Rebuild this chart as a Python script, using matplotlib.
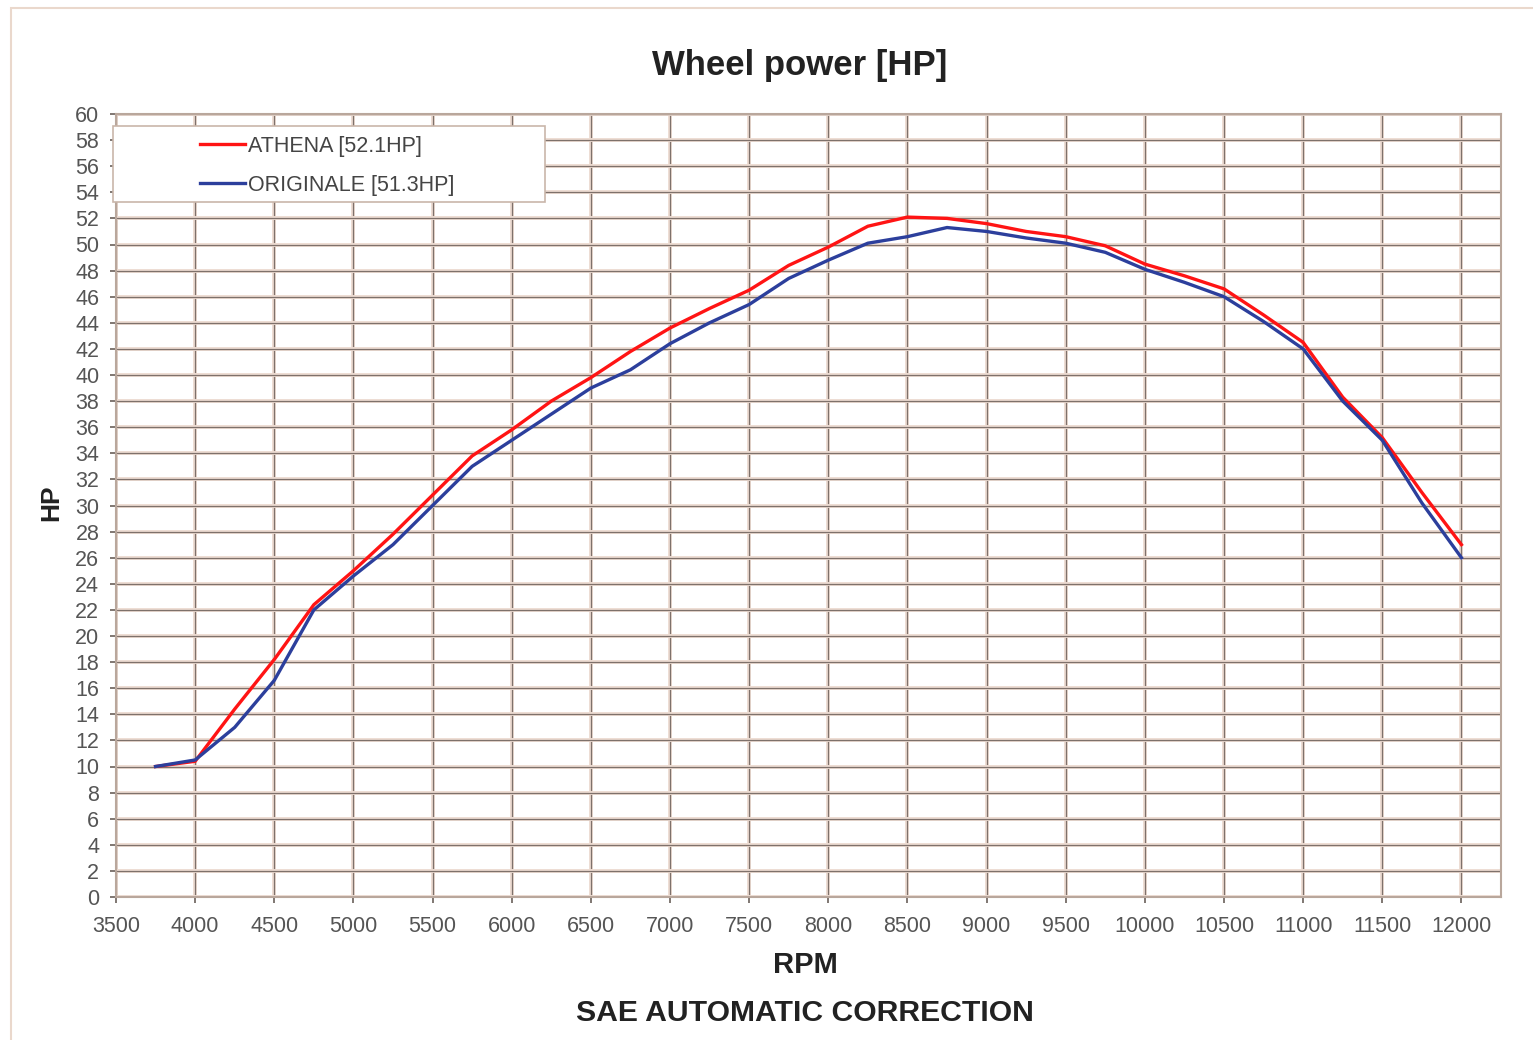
import matplotlib
matplotlib.use("Agg")
import matplotlib.pyplot as plt
import matplotlib.patheffects as pe
from matplotlib.patches import Rectangle

rpm = [3750, 4000, 4250, 4500, 4750, 5000, 5250, 5500, 5750, 6000, 6250, 6500,
       6750, 7000, 7250, 7500, 7750, 8000, 8250, 8500, 8750, 9000, 9250, 9500,
       9750, 10000, 10250, 10500, 10750, 11000, 11250, 11500, 11750, 12000]
athena = [10.0, 10.4, 14.4, 18.2, 22.4, 25.0, 27.8, 30.8, 33.8, 35.8, 38.0, 39.8,
          41.8, 43.6, 45.1, 46.5, 48.4, 49.8, 51.4, 52.1, 52.0, 51.6, 51.0, 50.6,
          49.9, 48.5, 47.6, 46.6, 44.6, 42.5, 38.3, 35.2, 31.0, 27.0]
originale = [10.0, 10.5, 13.0, 16.6, 22.0, 24.6, 27.0, 30.0, 33.0, 35.0, 37.0, 39.0,
             40.4, 42.4, 44.0, 45.4, 47.4, 48.8, 50.1, 50.6, 51.3, 51.0, 50.5, 50.1,
             49.4, 48.1, 47.1, 46.0, 44.1, 42.0, 38.0, 35.0, 30.2, 26.0]
labels = ["ATHENA [52.1HP]", "ORIGINALE [51.3HP]"]
xticks = list(range(3500, 12001, 500))
yticks = list(range(0, 61, 2))

plt.rcParams['font.family'] = ['Liberation Sans', 'DejaVu Sans']

W, H = 1533, 1040
fig = plt.figure(figsize=(W / 100, H / 100), dpi=100)
fig.patches.append(Rectangle((11 / W, -0.01), 1.0, 1 - 8 / H + 0.01,
                             transform=fig.transFigure, fill=False,
                             edgecolor='#ead8cc', linewidth=1.5))
ax = fig.add_axes([116 / W, 1 - 897 / H, (1501 - 116) / W, (897 - 114) / H])

ax.plot(rpm, athena, color='#ff1414', lw=2.4, label=labels[0], zorder=3)
ax.plot(rpm, originale, color='#2c3f9c', lw=2.4, label=labels[1], zorder=3)

ax.set_xlim(3500, 12250)
ax.set_ylim(0, 60)
ax.set_xticks(xticks)
ax.set_yticks(yticks)
ax.grid(True, color='#7e716b', lw=0.9)
for gl in ax.get_xgridlines() + ax.get_ygridlines():
    gl.set_path_effects([pe.Stroke(linewidth=2.8, foreground='#eddcd2'), pe.Normal()])
ax.set_axisbelow(True)
for sp in ax.spines.values():
    sp.set_color('#b9a79c')
    sp.set_linewidth(1.5)
ax.tick_params(axis='both', colors='#6a605a', labelcolor='#555555', labelsize=15.5,
               length=4, width=1.2)
ax.tick_params(axis='x', pad=10)
ax.tick_params(axis='y', pad=8)

fig.text(800 / W, 1 - 65 / H, "Wheel power [HP]", ha='center', va='center',
         fontsize=25, fontweight='bold', color='#222222')
fig.text(805 / W, 1 - 965 / H, "RPM", ha='center', va='center',
         fontsize=21, fontweight='bold', color='#222222')
fig.text(805 / W, 1 - 1013 / H, "SAE AUTOMATIC CORRECTION", ha='center', va='center',
         fontsize=21.7, fontweight='bold', color='#222222')
fig.text(51 / W, 1 - 503 / H, "HP", ha='center', va='center', rotation=90,
         fontsize=19, fontweight='bold', color='#222222')

# legend frame
ax.add_patch(Rectangle(((113 - 116) / 1385, (897 - 202) / 783), 432 / 1385, 76 / 783,
                       transform=ax.transAxes, facecolor='white', edgecolor='#c9b6aa',
                       linewidth=1.2, zorder=4, clip_on=False))
leg = ax.legend(loc='upper left', bbox_to_anchor=((200 - 116) / 1385, (897 - 136) / 783),
                fontsize=15.5, frameon=False, borderpad=0, handlelength=2.1,
                handletextpad=0.15, labelspacing=0.82, borderaxespad=0)
leg.set_zorder(5)
for t in leg.get_texts():
    t.set_color('#444444')

fig.savefig("out.png", dpi=100)
